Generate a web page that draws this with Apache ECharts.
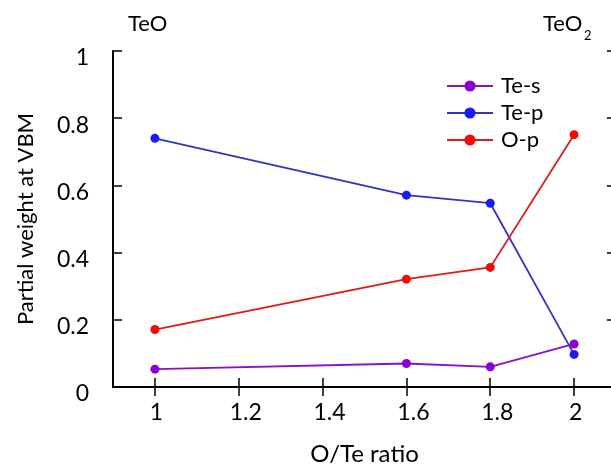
<!DOCTYPE html>
<html>
<head>
<meta charset="utf-8">
<title>Partial weight at VBM</title>
<script src="https://cdn.jsdelivr.net/npm/echarts@6/dist/echarts.min.js"></script>
<style>
  html, body { margin: 0; padding: 0; background: #fff; }
  #chart { width: 611px; height: 466px; }
</style>
</head>
<body>
<div id="chart"></div>
<script>
// O/Te ratio of each composition
const ratios = [1, 1.6, 1.8, 2];
// Partial weights at the valence band maximum
const teS = [0.053, 0.070, 0.060, 0.128];
const teP = [0.740, 0.571, 0.547, 0.097];
const oP  = [0.171, 0.321, 0.356, 0.751];
// Tick positions along the ratio axis
const xTicks = [1, 1.2, 1.4, 1.6, 1.8, 2];

const FONT = 'Lato';

function pairs(ys) {
  return ratios.map((x, i) => [x, ys[i]]);
}

function lineSeries(name, ys, dot, line) {
  return {
    name: name,
    type: 'line',
    data: pairs(ys),
    symbol: 'circle',
    symbolSize: 9,
    itemStyle: { color: dot },
    lineStyle: { color: line, width: 1.8 },
    emphasis: { disabled: true },
    z: 3
  };
}

const tickStyle = { inside: true, length: 9, lineStyle: { color: '#000', width: 1.5 } };
const axisLineStyle = { show: true, lineStyle: { color: '#000', width: 2 } };

const chart = echarts.init(document.getElementById('chart'), null, { renderer: 'canvas' });

chart.setOption({
  animation: false,
  backgroundColor: '#fff',
  grid: {
    left: 113, top: 51, width: 503, height: 336,
    containLabel: false,
    outerBoundsMode: 'none'
  },
  legend: {
    orient: 'vertical',
    left: 441,
    top: 70,
    itemWidth: 46,
    itemHeight: 14,
    itemGap: 5,
    selectedMode: false,
    textStyle: { fontFamily: FONT, fontSize: 22, color: '#000', lineHeight: 20, padding: [0, 0, 0, 3] },
    data: ['Te-s', 'Te-p', 'O-p']
  },
  xAxis: [
    {
      type: 'value',
      position: 'bottom',
      min: 0.9,
      max: 2.1,
      name: 'O/Te ratio',
      nameLocation: 'middle',
      nameGap: 55,
      nameTextStyle: { fontFamily: FONT, fontSize: 24, color: '#000' },
      axisLine: axisLineStyle,
      axisTick: Object.assign({ customValues: xTicks }, tickStyle),
      splitLine: { show: false },
      axisLabel: {
        customValues: xTicks,
        margin: 14,
        fontFamily: FONT,
        fontSize: 23,
        color: '#000',
        formatter: function (v) {
          const s = String(Math.round(v * 10) / 10);
          return s.indexOf('.') >= 0 ? '{d|' + s + '}' : '{i|' + s + '}';
        },
        rich: {
          d: { fontFamily: FONT, fontSize: 23, color: '#000', padding: [0, 0, 0, 14] },
          i: { fontFamily: FONT, fontSize: 23, color: '#000', padding: [0, 0, 0, 3] }
        }
      }
    },
    {
      type: 'value',
      position: 'top',
      min: 0.9,
      max: 2.1,
      axisLine: axisLineStyle,
      axisTick: Object.assign({ customValues: xTicks }, tickStyle),
      axisLabel: { show: false },
      splitLine: { show: false }
    }
  ],
  yAxis: [
    {
      type: 'value',
      position: 'left',
      min: 0,
      max: 1,
      interval: 0.2,
      name: 'Partial weight at VBM',
      nameLocation: 'middle',
      nameGap: 76,
      nameTextStyle: { fontFamily: FONT, fontSize: 22, color: '#000' },
      axisLine: axisLineStyle,
      axisTick: tickStyle,
      splitLine: { show: false },
      axisLabel: {
        margin: 24,
        color: '#000',
        formatter: function (v) {
          return '{v|' + String(Math.round(v * 10) / 10) + '}';
        },
        rich: {
          v: { fontFamily: FONT, fontSize: 23, color: '#000', padding: [14, 0, 0, 0] }
        }
      }
    },
    {
      type: 'value',
      position: 'right',
      min: 0,
      max: 1,
      interval: 0.2,
      axisLine: axisLineStyle,
      axisTick: tickStyle,
      axisLabel: { show: false },
      splitLine: { show: false }
    }
  ],
  graphic: [
    { type: 'text', left: 128, top: 13, style: { text: 'TeO', fontFamily: FONT, fontSize: 22, fill: '#000' } },
    { type: 'text', left: 543, top: 13, style: { text: 'TeO', fontFamily: FONT, fontSize: 22, fill: '#000' } },
    { type: 'text', left: 584, top: 29, style: { text: '2', fontFamily: FONT, fontSize: 13, fill: '#000' } }
  ],
  series: [
    lineSeries('Te-s', teS, '#8a00d4', '#8a10c8'),
    lineSeries('Te-p', teP, '#1a1af5', '#3434c0'),
    lineSeries('O-p', oP, '#f50a0a', '#dd1a1a')
  ]
});
</script>
</body>
</html>
